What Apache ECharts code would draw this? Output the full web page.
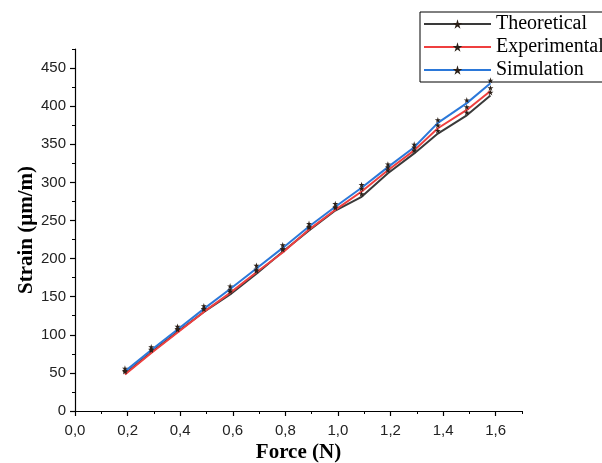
<!DOCTYPE html>
<html>
<head>
<meta charset="utf-8">
<script src="https://cdn.jsdelivr.net/npm/echarts@6/dist/echarts.min.js"></script>
<style>html,body{margin:0;padding:0;background:#fff}#c{width:602px;height:463px}</style>
</head>
<body>
<div id="c"></div>
<script>
const force = [0.19, 0.29, 0.39, 0.49, 0.59, 0.69, 0.79, 0.89, 0.99, 1.09, 1.19, 1.29, 1.38, 1.49, 1.58];
const theoretical = [49, 77, 104, 130, 153, 180, 209, 237, 263, 281, 312, 338, 364, 388, 414];
const experimental = [48, 76, 103, 130, 155, 182, 208, 238, 264, 288, 316, 342, 371, 395, 420];
const simulation = [52, 80, 107, 134, 160, 187, 214, 242, 268, 293, 320, 346, 378, 404, 430];
const xMajorTicks = [0, 0.2, 0.4, 0.6, 0.8, 1.0, 1.2, 1.4, 1.6];
const yMajorTicks = [0, 50, 100, 150, 200, 250, 300, 350, 400, 450];

const pairs = arr => force.map((f, i) => [f, arr[i]]);
const chart = echarts.init(document.getElementById('c'));
const serif = 'Liberation Serif';
const sans = 'Liberation Sans';
function mk(name, data, color) {
  return {
    name, type: 'line', data: pairs(data), xAxisIndex: 0, yAxisIndex: 0,
    symbol: 'path://M0,-10 L2.2,-3 L9.5,-3 L3.6,1.2 L5.9,8 L0,3.8 L-5.9,8 L-3.6,1.2 L-9.5,-3 L-2.2,-3 Z',
    symbolSize: 6, symbolOffset: [0, -3], showSymbol: true,
    lineStyle: { color, width: 2 },
    itemStyle: { color: '#2b2018' },
    emphasis: { disabled: true }
  };
}
chart.setOption({
  animation: false,
  backgroundColor: '#fff',
  grid: { left: 75, right: 80, top: 49, bottom: 52, outerBoundsMode: 'none', containLabel: false },
  legend: {
    orient: 'vertical', left: 420, top: 12,
    itemWidth: 67, itemHeight: 12, itemGap: 3,
    padding: [2, 30, 2, 3],
    borderColor: '#000', borderWidth: 1,
    textStyle: { fontFamily: serif, fontSize: 20, color: '#000' },
    data: ['Theoretical', 'Experimental', 'Simulation']
  },
  xAxis: [{
    type: 'value', min: 0, max: 1.7, interval: 0.2,
    name: 'Force (N)', nameLocation: 'middle', nameGap: 31, nameMoveOverlap: false,
    nameTextStyle: { fontFamily: serif, fontSize: 21, fontWeight: 'bold', color: '#000' },
    axisLine: { show: true, lineStyle: { color: '#000', width: 1.2 } },
    axisTick: { show: true, length: 5, lineStyle: { color: '#000', width: 1.2 }, customValues: xMajorTicks },
    axisLabel: { fontFamily: sans, fontSize: 15, color: '#222', margin: 12, customValues: xMajorTicks,
      formatter: v => v.toFixed(1).replace('.', ',') },
    splitLine: { show: false }
  }, {
    type: 'value', min: 0, max: 1.7, interval: 0.1, position: 'bottom',
    axisLine: { show: false },
    axisTick: { show: true, length: 3, lineStyle: { color: '#000', width: 1 } },
    axisLabel: { show: false }, splitLine: { show: false }
  }],
  yAxis: [{
    type: 'value', min: 0, max: 475, interval: 50,
    name: 'Strain (μm/m)', nameLocation: 'middle', nameGap: 38, nameMoveOverlap: false,
    nameTextStyle: { fontFamily: serif, fontSize: 21, fontWeight: 'bold', color: '#000' },
    axisLine: { show: true, lineStyle: { color: '#000', width: 1.2 } },
    axisTick: { show: true, length: 5, lineStyle: { color: '#000', width: 1.2 }, customValues: yMajorTicks },
    axisLabel: { fontFamily: sans, fontSize: 15, color: '#222', margin: 9, customValues: yMajorTicks },
    splitLine: { show: false }
  }, {
    type: 'value', min: 0, max: 475, interval: 25, position: 'left',
    axisLine: { show: false },
    axisTick: { show: true, length: 3, lineStyle: { color: '#000', width: 1 } },
    axisLabel: { show: false }, splitLine: { show: false }
  }],
  series: [
    mk('Theoretical', theoretical, '#3a3a3a'),
    mk('Experimental', experimental, '#ef3f3f'),
    mk('Simulation', simulation, '#2b78d9')
  ]
});
</script>
</body>
</html>
